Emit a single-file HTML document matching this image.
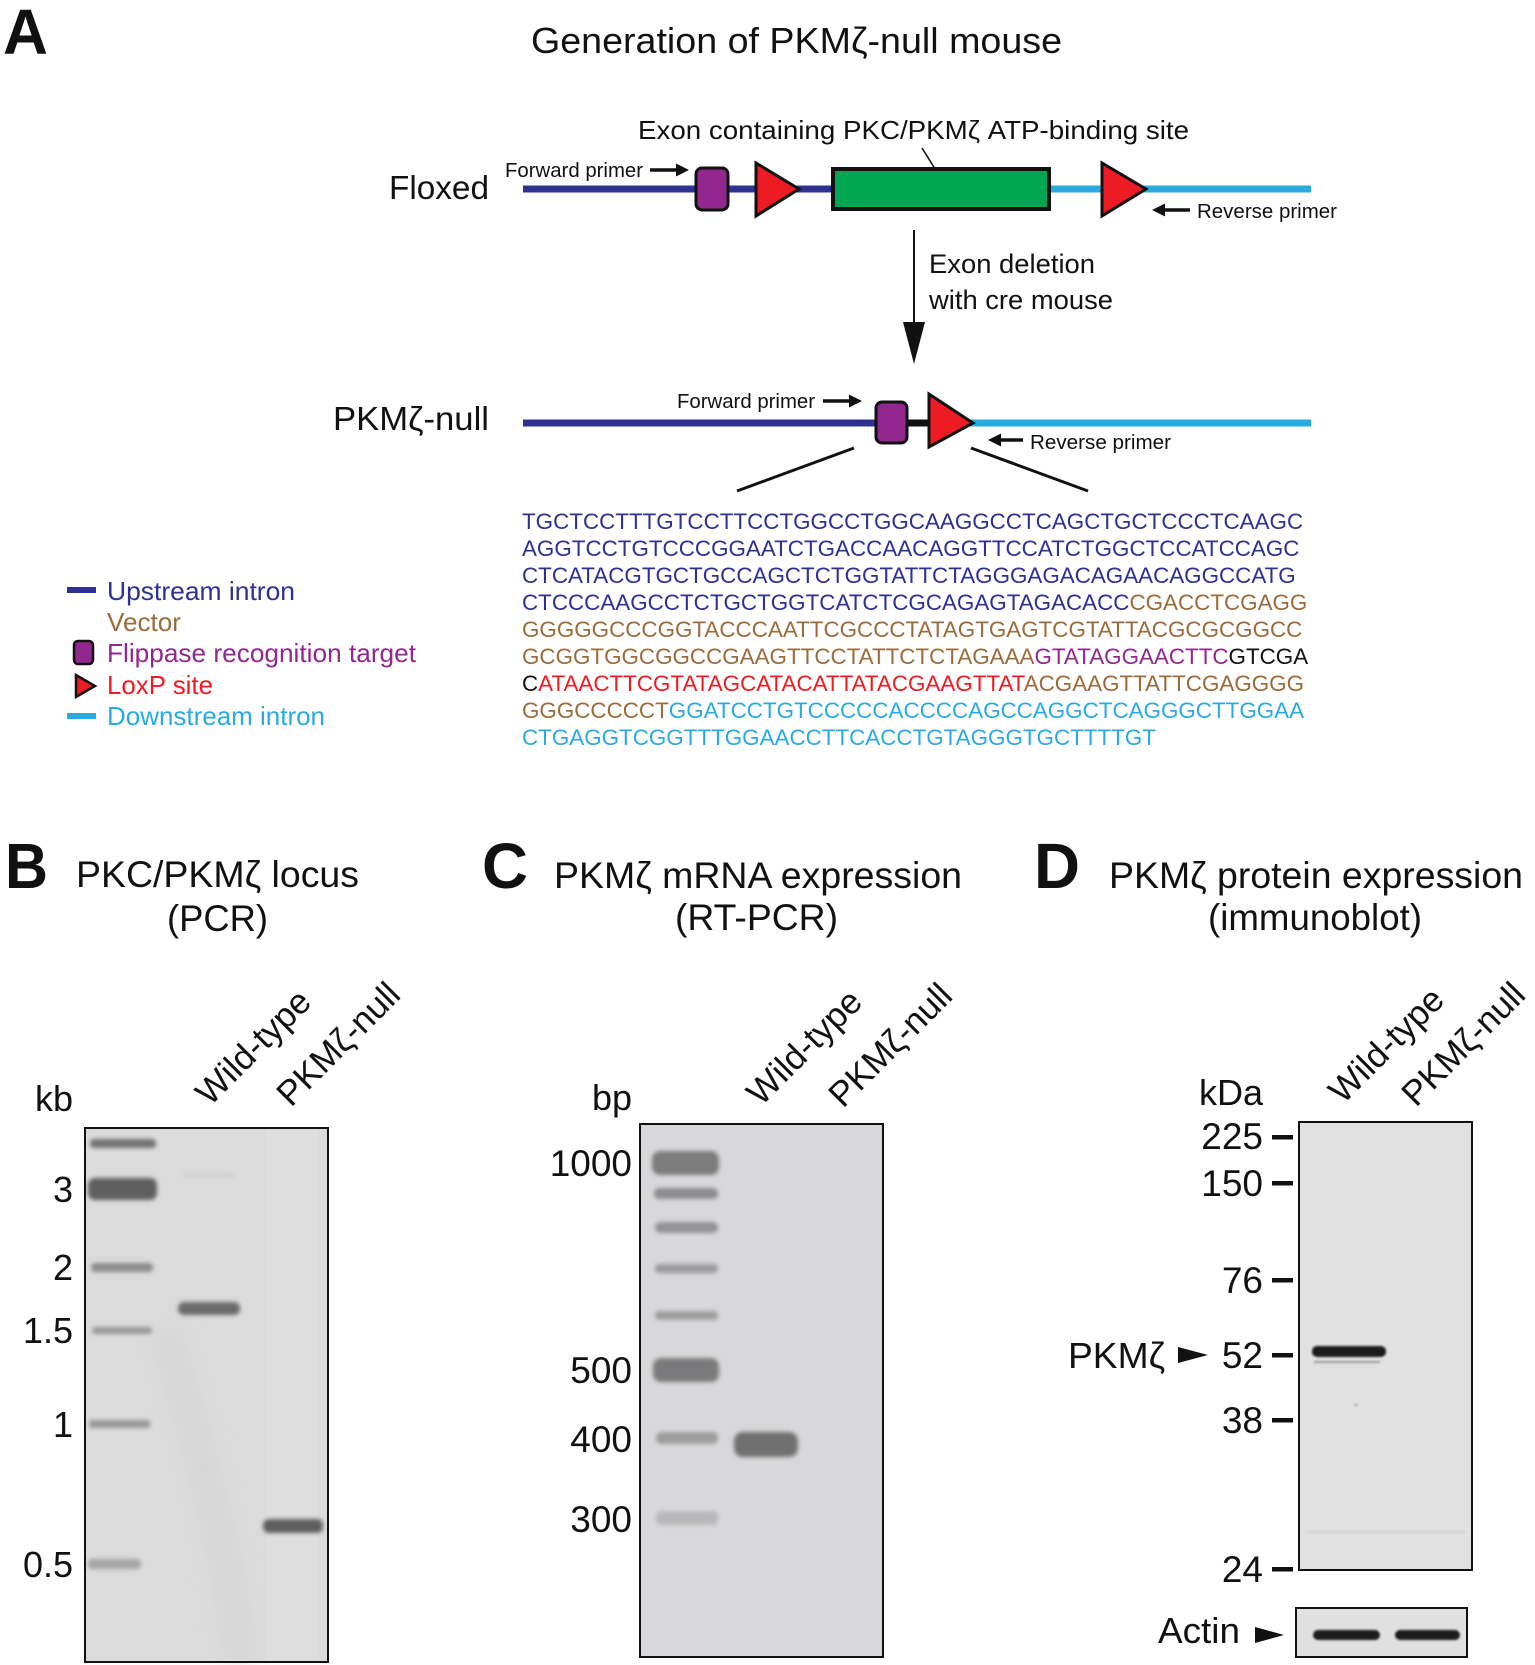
<!DOCTYPE html>
<html>
<head>
<meta charset="utf-8">
<style>
html,body{margin:0;padding:0;background:#fff;}
svg{display:block;}
text{font-family:"Liberation Sans",Arial,Helvetica,sans-serif;}
</style>
</head>
<body>
<svg width="1535" height="1665" viewBox="0 0 1535 1665" xmlns="http://www.w3.org/2000/svg">
<defs>
  <filter id="b1" x="-20%" y="-300%" width="140%" height="700%"><feGaussianBlur stdDeviation="2.2"/></filter>
  <filter id="b3" x="-50%" y="-50%" width="200%" height="200%"><feGaussianBlur stdDeviation="10"/></filter>
  <filter id="b0" x="-20%" y="-200%" width="140%" height="500%"><feGaussianBlur stdDeviation="1.1"/></filter>
</defs>
<rect width="1535" height="1665" fill="#fff"/>

<!-- ================= PANEL A ================= -->
<text x="3" y="54" font-size="64" font-weight="bold" fill="#111" textLength="45" lengthAdjust="spacingAndGlyphs">A</text>
<text x="531" y="53" font-size="36" fill="#111" textLength="531" lengthAdjust="spacingAndGlyphs">Generation of PKMζ-null mouse</text>

<text x="638" y="139" font-size="26" fill="#111" textLength="551" lengthAdjust="spacingAndGlyphs">Exon containing PKC/PKMζ ATP-binding site</text>
<line x1="922" y1="148" x2="942" y2="180" stroke="#111" stroke-width="1.6"/>

<!-- Floxed -->
<text x="389" y="199" font-size="33" fill="#111" textLength="100" lengthAdjust="spacingAndGlyphs">Floxed</text>
<text x="505" y="177" font-size="20" fill="#111" textLength="138" lengthAdjust="spacingAndGlyphs">Forward primer</text>
<line x1="650" y1="170" x2="678" y2="170" stroke="#111" stroke-width="3.5"/>
<polygon points="689,170 676,163.5 676,176.5" fill="#111"/>

<line x1="523" y1="189" x2="834" y2="189" stroke="#2e3192" stroke-width="7"/>
<line x1="1050" y1="189" x2="1311" y2="189" stroke="#29abe2" stroke-width="7"/>
<rect x="696" y="168" width="32" height="42" rx="6" ry="6" fill="#92278f" stroke="#111" stroke-width="3"/>
<polygon points="756,163 756,216 799,189" fill="#ed1c24" stroke="#111" stroke-width="3" stroke-linejoin="miter"/>
<rect x="833" y="169" width="216" height="40" fill="#00a651" stroke="#111" stroke-width="4"/>
<polygon points="1102,163 1102,216 1146,189" fill="#ed1c24" stroke="#111" stroke-width="3"/>

<line x1="1162" y1="210" x2="1190" y2="210" stroke="#111" stroke-width="3.5"/>
<polygon points="1152,210 1165,203.5 1165,216.5" fill="#111"/>
<text x="1197" y="218" font-size="20.5" fill="#111" textLength="140" lengthAdjust="spacingAndGlyphs">Reverse primer</text>

<!-- vertical arrow -->
<line x1="914" y1="230" x2="914" y2="330" stroke="#111" stroke-width="2"/>
<polygon points="903,322 925,322 914,364" fill="#111"/>
<text x="929" y="273" font-size="27" fill="#111" textLength="166" lengthAdjust="spacingAndGlyphs">Exon deletion</text>
<text x="929" y="309" font-size="27" fill="#111" textLength="184" lengthAdjust="spacingAndGlyphs">with cre mouse</text>

<!-- Null -->
<text x="333" y="430" font-size="33.5" fill="#111" textLength="156" lengthAdjust="spacingAndGlyphs">PKMζ-null</text>
<text x="677" y="408" font-size="20" fill="#111" textLength="138" lengthAdjust="spacingAndGlyphs">Forward primer</text>
<line x1="823" y1="401" x2="851" y2="401" stroke="#111" stroke-width="3.5"/>
<polygon points="862,401 849,394.5 849,407.5" fill="#111"/>

<line x1="523" y1="423" x2="878" y2="423" stroke="#2e3192" stroke-width="7"/>
<line x1="905" y1="423" x2="932" y2="423" stroke="#111" stroke-width="7"/>
<line x1="968" y1="423" x2="1311" y2="423" stroke="#29abe2" stroke-width="7"/>
<rect x="876" y="402" width="31" height="41" rx="6" ry="6" fill="#92278f" stroke="#111" stroke-width="3"/>
<polygon points="929,394 929,447 973,423" fill="#ed1c24" stroke="#111" stroke-width="3"/>

<line x1="998" y1="440" x2="1023" y2="440" stroke="#111" stroke-width="3.5"/>
<polygon points="988,440 1001,433.5 1001,446.5" fill="#111"/>
<text x="1030" y="449" font-size="20.5" fill="#111" textLength="141" lengthAdjust="spacingAndGlyphs">Reverse primer</text>

<line x1="737" y1="491" x2="854" y2="448" stroke="#111" stroke-width="3"/>
<line x1="971" y1="448" x2="1088" y2="491" stroke="#111" stroke-width="3"/>

<!-- Legend -->
<line x1="67" y1="590" x2="96" y2="590" stroke="#2e3192" stroke-width="6"/>
<text x="107" y="600" font-size="26" fill="#2e3192" textLength="188" lengthAdjust="spacingAndGlyphs">Upstream intron</text>
<text x="107" y="631" font-size="26" fill="#9c6b3c" textLength="74" lengthAdjust="spacingAndGlyphs">Vector</text>
<rect x="74" y="641" width="19" height="23" rx="4" ry="4" fill="#92278f" stroke="#111" stroke-width="2.5"/>
<text x="107" y="662" font-size="26" fill="#92278f" textLength="309" lengthAdjust="spacingAndGlyphs">Flippase recognition target</text>
<polygon points="76,675 76,697 95,686" fill="#ed1c24" stroke="#111" stroke-width="2.5"/>
<text x="107" y="694" font-size="26" fill="#ed1c24" textLength="106" lengthAdjust="spacingAndGlyphs">LoxP site</text>
<line x1="67" y1="716" x2="96" y2="716" stroke="#29abe2" stroke-width="6"/>
<text x="107" y="725" font-size="26" fill="#29abe2" textLength="218" lengthAdjust="spacingAndGlyphs">Downstream intron</text>

<!-- Sequence -->
<g font-size="22.4">
<text x="522" y="529" fill="#2e3192">TGCTCCTTTGTCCTTCCTGGCCTGGCAAGGCCTCAGCTGCTCCCTCAAGC</text>
<text x="522" y="556" fill="#2e3192">AGGTCCTGTCCCGGAATCTGACCAACAGGTTCCATCTGGCTCCATCCAGC</text>
<text x="522" y="583" fill="#2e3192">CTCATACGTGCTGCCAGCTCTGGTATTCTAGGGAGACAGAACAGGCCATG</text>
<text x="522" y="610" fill="#2e3192">CTCCCAAGCCTCTGCTGGTCATCTCGCAGAGTAGACACC<tspan fill="#9c6b3c">CGACCTCGAGG</tspan></text>
<text x="522" y="637" fill="#9c6b3c">GGGGGCCCGGTACCCAATTCGCCCTATAGTGAGTCGTATTACGCGCGGCC</text>
<text x="522" y="664" fill="#9c6b3c">GCGGTGGCGGCCGAAGTTCCTATTCTCTAGAAA<tspan fill="#92278f">GTATAGGAACTTC</tspan><tspan fill="#111">GTCGA</tspan></text>
<text x="522" y="691" fill="#111">C<tspan fill="#ed1c24">ATAACTTCGTATAGCATACATTATACGAAGTTAT</tspan><tspan fill="#9c6b3c">ACGAAGTTATTCGAGGGG</tspan></text>
<text x="522" y="718" fill="#9c6b3c">GGGCCCCCT<tspan fill="#29abe2">GGATCCTGTCCCCCACCCCAGCCAGGCTCAGGGCTTGGAA</tspan></text>
<text x="522" y="745" fill="#29abe2">CTGAGGTCGGTTTGGAACCTTCACCTGTAGGGTGCTTTTGT</text>
</g>

<!-- ================= PANEL B ================= -->
<text x="5" y="888" font-size="64" font-weight="bold" fill="#111" textLength="43" lengthAdjust="spacingAndGlyphs">B</text>
<text x="76" y="887" font-size="37" fill="#111" textLength="283" lengthAdjust="spacingAndGlyphs">PKC/PKMζ locus</text>
<text x="167" y="931" font-size="37" fill="#111" textLength="101" lengthAdjust="spacingAndGlyphs">(PCR)</text>
<text x="73" y="1111" font-size="36" fill="#111" text-anchor="end">kb</text>
<text transform="translate(210,1107) rotate(-45)" font-size="35" fill="#111">Wild-type</text>
<text transform="translate(291,1108) rotate(-45)" font-size="35" fill="#111">PKMζ-null</text>

<rect x="85" y="1128" width="243" height="534" fill="#dbdbdb"/>
<rect x="266" y="1130" width="52" height="530" fill="#dfdfdf" opacity="0.6"/>
<path d="M165,1330 C200,1450 230,1560 240,1660" stroke="#d4d4d4" stroke-width="30" fill="none" filter="url(#b3)" opacity="0.7"/>
<g filter="url(#b1)">
  <rect x="90" y="1139" width="66" height="9" rx="4" fill="#727272"/>
  <rect x="88" y="1178" width="69" height="22" rx="7" fill="#5f5f5f"/>
  <rect x="91" y="1263" width="62" height="9" rx="4" fill="#8c8c8c"/>
  <rect x="92" y="1327" width="60" height="7" rx="3" fill="#9a9a9a"/>
  <rect x="89" y="1420" width="61" height="8" rx="3" fill="#979797"/>
  <rect x="88" y="1559" width="53" height="10" rx="4" fill="#a6a6a6"/>
  <rect x="183" y="1173" width="52" height="4" fill="#cfcfcf"/>
  <rect x="178" y="1302" width="62" height="13" rx="6" fill="#6a6a6a"/>
  <rect x="263" y="1519" width="60" height="14" rx="6" fill="#5e5e5e"/>
</g>
<rect x="85" y="1128" width="243" height="534" fill="none" stroke="#111" stroke-width="2"/>
<g font-size="36" fill="#111" text-anchor="end">
  <text x="73" y="1202">3</text>
  <text x="73" y="1280">2</text>
  <text x="73" y="1343">1.5</text>
  <text x="73" y="1437">1</text>
  <text x="73" y="1577">0.5</text>
</g>

<!-- ================= PANEL C ================= -->
<text x="482" y="888" font-size="64" font-weight="bold" fill="#111" textLength="46" lengthAdjust="spacingAndGlyphs">C</text>
<text x="554" y="888" font-size="37" fill="#111" textLength="408" lengthAdjust="spacingAndGlyphs">PKMζ mRNA expression</text>
<text x="675" y="930" font-size="37" fill="#111" textLength="163" lengthAdjust="spacingAndGlyphs">(RT-PCR)</text>
<text x="632" y="1110" font-size="36" fill="#111" text-anchor="end">bp</text>
<text transform="translate(761,1107) rotate(-45)" font-size="35" fill="#111">Wild-type</text>
<text transform="translate(843,1109) rotate(-45)" font-size="35" fill="#111">PKMζ-null</text>

<rect x="640" y="1124" width="243" height="533" fill="#d8d8da"/>
<g filter="url(#b1)">
  <rect x="652" y="1151" width="67" height="24" rx="8" fill="#7b7b7d"/>
  <rect x="654" y="1188" width="64" height="11" rx="5" fill="#8c8c8e"/>
  <rect x="655" y="1222" width="63" height="11" rx="5" fill="#939395"/>
  <rect x="655" y="1264" width="63" height="9" rx="4" fill="#9a9a9c"/>
  <rect x="655" y="1311" width="63" height="9" rx="4" fill="#9d9d9f"/>
  <rect x="653" y="1358" width="66" height="24" rx="8" fill="#7a7a7c"/>
  <rect x="656" y="1432" width="62" height="12" rx="5" fill="#9c9c9e"/>
  <rect x="656" y="1511" width="62" height="14" rx="6" fill="#b8b8ba"/>
  <rect x="734" y="1432" width="64" height="25" rx="9" fill="#6f6f71"/>
</g>
<rect x="640" y="1124" width="243" height="533" fill="none" stroke="#111" stroke-width="2"/>
<g font-size="37" fill="#111" text-anchor="end">
  <text x="632" y="1176">1000</text>
  <text x="632" y="1383">500</text>
  <text x="632" y="1452">400</text>
  <text x="632" y="1532">300</text>
</g>

<!-- ================= PANEL D ================= -->
<text x="1034" y="888" font-size="64" font-weight="bold" fill="#111" textLength="46" lengthAdjust="spacingAndGlyphs">D</text>
<text x="1109" y="888" font-size="37" fill="#111" textLength="414" lengthAdjust="spacingAndGlyphs">PKMζ protein expression</text>
<text x="1208" y="930" font-size="37" fill="#111" textLength="214" lengthAdjust="spacingAndGlyphs">(immunoblot)</text>
<text x="1263" y="1105" font-size="36" fill="#111" text-anchor="end">kDa</text>
<text transform="translate(1343,1105) rotate(-45)" font-size="35" fill="#111">Wild-type</text>
<text transform="translate(1416,1108) rotate(-45)" font-size="35" fill="#111">PKMζ-null</text>

<rect x="1299" y="1122" width="173" height="448" fill="#e1e1e1"/>
<g filter="url(#b0)">
  <rect x="1312" y="1346" width="74" height="11" rx="5" fill="#1a1a1a"/>
  <rect x="1314" y="1361" width="66" height="2" fill="#9a9a9a"/>
  <rect x="1306" y="1531" width="160" height="1.5" fill="#d0d0d0"/>
  <rect x="1355" y="1404" width="2" height="2" fill="#888"/>
</g>
<rect x="1299" y="1122" width="173" height="448" fill="none" stroke="#111" stroke-width="2"/>
<g fill="#111">
  <rect x="1272" y="1135" width="21" height="4.5"/>
  <rect x="1272" y="1181" width="21" height="4.5"/>
  <rect x="1272" y="1278" width="21" height="4.5"/>
  <rect x="1272" y="1353" width="21" height="4.5"/>
  <rect x="1272" y="1418" width="21" height="4.5"/>
  <rect x="1272" y="1567" width="21" height="4.5"/>
</g>
<g font-size="37" fill="#111" text-anchor="end">
  <text x="1263" y="1149">225</text>
  <text x="1263" y="1196">150</text>
  <text x="1263" y="1293">76</text>
  <text x="1263" y="1368">52</text>
  <text x="1263" y="1433">38</text>
  <text x="1263" y="1582">24</text>
</g>
<text x="1068" y="1368" font-size="36" fill="#111" textLength="97" lengthAdjust="spacingAndGlyphs">PKMζ</text>
<polygon points="1178,1347 1178,1363 1208,1355" fill="#111"/>

<!-- Actin -->
<rect x="1296" y="1608" width="171" height="49" fill="#e0e0e0"/>
<g filter="url(#b0)">
  <rect x="1313" y="1630" width="67" height="10" rx="5" fill="#1c1c1c"/>
  <rect x="1395" y="1630" width="65" height="10" rx="5" fill="#1c1c1c"/>
</g>
<rect x="1296" y="1608" width="171" height="49" fill="none" stroke="#111" stroke-width="2"/>
<text x="1158" y="1643" font-size="36" fill="#111" textLength="82" lengthAdjust="spacingAndGlyphs">Actin</text>
<polygon points="1255,1627 1255,1643 1284,1635" fill="#111"/>
</svg>
</body>
</html>
